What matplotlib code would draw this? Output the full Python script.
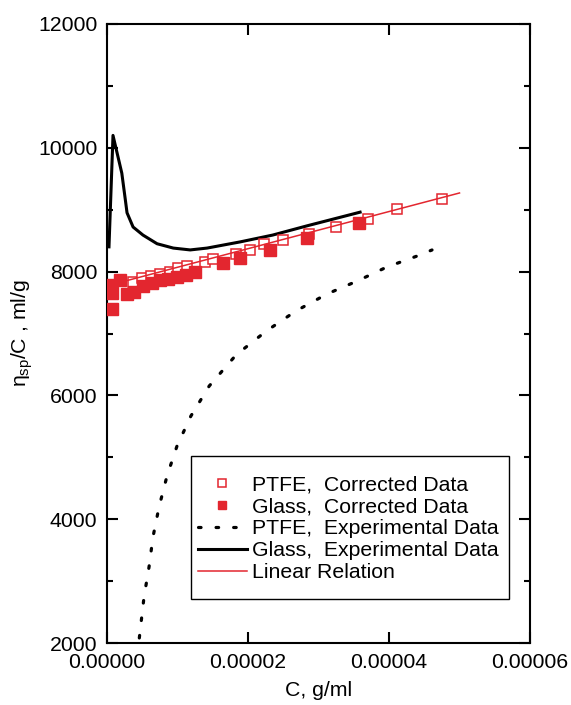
import numpy as np
import matplotlib
matplotlib.use('Agg')
import matplotlib.pyplot as plt
from matplotlib.patches import Rectangle

plt.rcParams['font.family'] = ['Liberation Sans', 'DejaVu Sans']
plt.rcParams['mathtext.fontset'] = 'custom'
plt.rcParams['mathtext.rm'] = 'Liberation Sans'
plt.rcParams['mathtext.it'] = 'Liberation Sans'

RED = '#e3262f'
FS = 15.3

# PTFE, corrected data (open squares)
ptfe_c = [3.7e-6, 5.0e-6, 6.2e-6, 7.5e-6, 8.9e-6, 1.01e-5, 1.13e-5, 1.39e-5, 1.50e-5,
          1.83e-5, 2.03e-5, 2.23e-5, 2.50e-5, 2.87e-5, 3.25e-5, 3.70e-5, 4.11e-5, 4.75e-5]
ptfe_v = [7832, 7897, 7929, 7961, 7994, 8058, 8090, 8155, 8204,
          8284, 8349, 8446, 8510, 8610, 8720, 8850, 9011, 9173]

# Glass, corrected data (filled squares)
glass_c = [4.3e-7, 7.1e-7, 7.1e-7, 1.84e-6, 2.84e-6, 3.83e-6, 5.1e-6, 6.4e-6, 7.5e-6,
           8.7e-6, 9.9e-6, 1.12e-5, 1.25e-5, 1.65e-5, 1.89e-5, 2.31e-5, 2.84e-5, 3.57e-5]
glass_v = [7784, 7654, 7396, 7864, 7638, 7670, 7767, 7816, 7864,
           7880, 7913, 7945, 7994, 8139, 8220, 8349, 8543, 8785]

# PTFE, experimental data (dotted)
ptfe_exp_c = [4.3e-6, 5.25e-6, 5.96e-6, 6.52e-6, 7.38e-6, 8.51e-6, 9.93e-6, 1.19e-5,
              1.45e-5, 1.83e-5, 2.26e-5, 2.68e-5, 3.12e-5, 3.55e-5, 3.97e-5, 4.40e-5, 4.61e-5]
ptfe_exp_v = [1800, 2743, 3228, 3712, 4197, 4698, 5183, 5667,
              6152, 6653, 7040, 7364, 7638, 7848, 8074, 8252, 8349]

# Glass, experimental data (solid black)
glass_exp_c = [2.8e-7, 8.5e-7, 2.1e-6, 2.6e-6, 2.84e-6, 3.7e-6, 5.1e-6, 7.1e-6,
               9.4e-6, 1.18e-5, 1.42e-5, 1.89e-5, 2.35e-5, 2.84e-5, 3.59e-5]
glass_exp_v = [8400, 10200, 9590, 9160, 8950, 8720, 8590, 8450,
               8380, 8350, 8380, 8480, 8590, 8740, 8960]

# Linear relation
lin_intercept = 7770
lin_slope = 3.0e7
lin_c = [0.0, 5.0e-5]

fig = plt.figure(figsize=(5.71, 7.05), dpi=100)
ax = fig.add_axes([0.1874, 0.0879, 0.7408, 0.8781])

lin_v = [lin_intercept + lin_slope * c for c in lin_c]

ax.plot(ptfe_c, ptfe_v, ls='none', marker='s', ms=7.5, mfc='white', mec=RED, mew=1.1,
        label='PTFE,  Corrected Data', zorder=4)
ax.plot(glass_c, glass_v, ls='none', marker='s', ms=8, mfc=RED, mec=RED,
        label='Glass,  Corrected Data', zorder=5)
ax.plot(ptfe_exp_c, ptfe_exp_v, color='black', lw=2.3, ls=(0, (0.8, 4.7)),
        dash_capstyle='round', label='PTFE,  Experimental Data', zorder=3)
ax.plot(glass_exp_c, glass_exp_v, color='black', lw=2.2,
        label='Glass,  Experimental Data', zorder=3)
ax.plot(lin_c, lin_v, color=RED, lw=1.1, label='Linear Relation', zorder=6)

ax.set_xlim(0, 6e-5)
ax.set_ylim(2000, 12000)
ax.set_xticks([0, 2e-5, 4e-5, 6e-5])
ax.set_xticklabels(['0.00000', '0.00002', '0.00004', '0.00006'])
ax.set_yticks(np.arange(2000, 12001, 2000))
ax.set_yticks(np.arange(3000, 12000, 2000), minor=True)

for s in ax.spines.values():
    s.set_linewidth(1.5)
ax.tick_params(which='both', direction='in', top=True, right=True, width=1.5,
               labelsize=FS, pad=7)
ax.tick_params(which='major', length=8)
ax.tick_params(which='minor', length=4.5)

ax.set_xlabel('C, g/ml', fontsize=FS, labelpad=7)
ax.set_ylabel(r'$\eta_{sp}$/C , ml/g', fontsize=FS, labelpad=2)

# legend box frame
ax.add_patch(Rectangle((0.1986, 0.0711), 0.7518, 0.231, transform=ax.transAxes,
                       facecolor='white', edgecolor='black', lw=1.0, zorder=7))

leg = ax.legend(loc='upper left', bbox_to_anchor=(0.2151, 0.271),
                fontsize=FS, frameon=False, handlelength=2.3, handletextpad=0.25,
                labelspacing=0.14, borderpad=0, borderaxespad=0, markerscale=0.8)
leg.set_zorder(8)

fig.savefig('out.png', dpi=100)
